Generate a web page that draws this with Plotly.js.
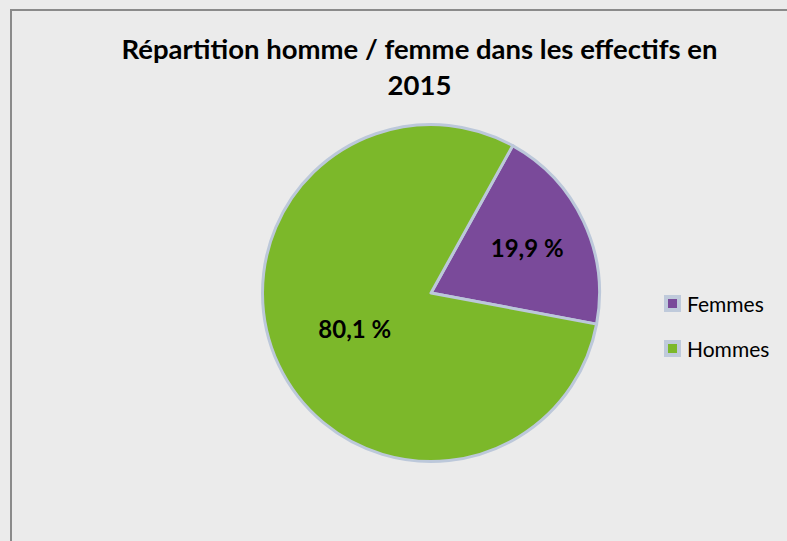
<!DOCTYPE html>
<html>
<head>
<meta charset="utf-8">
<script src="https://cdn.plot.ly/plotly-3.0.1.min.js"></script>
<style>html,body{margin:0;padding:0;background:#EBEBEB;}#chart{width:787px;height:541px;}</style>
</head>
<body>
<div id="chart"></div>
<script>
const labels = ['Femmes', 'Hommes'];
const values = [19.9, 80.1];
const colors = ['#7A4A9A', '#7CB82A'];
const titleText = 'Répartition homme / femme dans les effectifs en<br>2015';

const W = 787, H = 541;
const px = x => x / W;
const py = y => 1 - y / H;

const shapes = [{
  type: 'rect', xref: 'paper', yref: 'paper',
  x0: px(11), x1: px(900), y0: py(10), y1: py(700),
  line: {color: '#8A8A8A', width: 2}, fillcolor: 'rgba(0,0,0,0)', layer: 'below'
}];
const annotations = [];
const legendY = [303.5, 348.5];
labels.forEach((lab, i) => {
  const cy = legendY[i];
  shapes.push({type: 'rect', xref: 'paper', yref: 'paper',
    x0: px(664), x1: px(681), y0: py(cy + 8.5), y1: py(cy - 8.5),
    fillcolor: '#BFCADB', line: {width: 0}});
  shapes.push({type: 'rect', xref: 'paper', yref: 'paper',
    x0: px(668), x1: px(677), y0: py(cy + 4.5), y1: py(cy - 4.5),
    fillcolor: colors[i], line: {width: 0}});
  annotations.push({xref: 'paper', yref: 'paper', x: px(685), y: py(cy),
    xanchor: 'left', yanchor: 'middle', showarrow: false, text: lab,
    font: {family: 'Lato, sans-serif', size: 21, color: '#000'}});
});

const data = [{
  type: 'pie',
  labels: labels,
  values: values,
  sort: false,
  direction: 'clockwise',
  rotation: 29,
  marker: {colors: colors, line: {color: '#BCC8DA', width: 3}},
  textinfo: 'value',
  texttemplate: '<b>%{value:.1f} %</b>',
  textposition: 'inside',
  insidetextorientation: 'horizontal',
  insidetextfont: {family: 'Lato, sans-serif', size: 24, color: '#000'},
  domain: {x: [px(262.5), px(599.5)], y: [py(461.5), py(124.5)]},
  showlegend: false,
  hoverinfo: 'none'
}];

const layout = {
  width: W, height: H,
  margin: {l: 0, r: 0, t: 0, b: 0},
  paper_bgcolor: '#EBEBEB',
  plot_bgcolor: '#EBEBEB',
  separators: ', ',
  showlegend: false,
  title: {text: '<b>' + titleText + '</b>', x: px(419.5), xanchor: 'center',
    y: py(59), yanchor: 'middle', yref: 'container',
    font: {family: 'Lato, sans-serif', size: 27.5, color: '#000'}},
  shapes: shapes,
  annotations: annotations
};

Plotly.newPlot('chart', data, layout, {displayModeBar: false, staticPlot: true});
</script>
</body>
</html>
